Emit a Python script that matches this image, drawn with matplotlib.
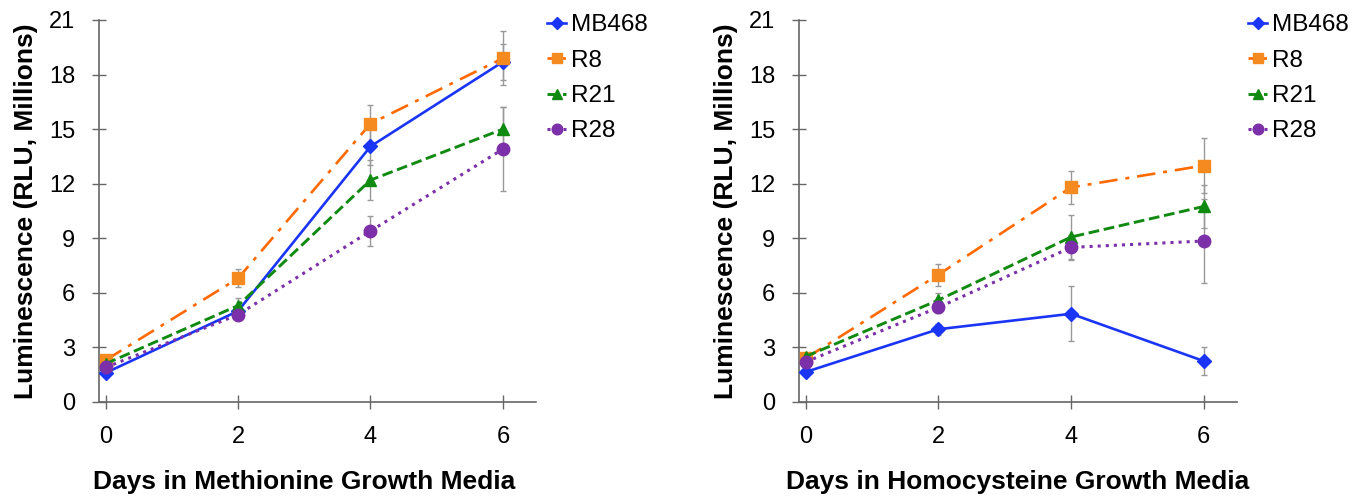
import matplotlib.pyplot as plt

days = [0, 2, 4, 6]
series = ["MB468", "R8", "R21", "R28"]

# Methionine media (RLU, millions)
met_mb468 = [1.6, 5.0, 14.05, 18.7]
met_r8 = [2.3, 6.8, 15.3, 18.9]
met_r21 = [2.1, 5.3, 12.2, 15.0]
met_r28 = [1.9, 4.8, 9.4, 13.9]
met_mb468_err = [0.2, 0.3, 1.0, 1.0]
met_r8_err = [0.2, 0.5, 1.0, 1.5]
met_r21_err = [0.2, 0.4, 1.1, 1.2]
met_r28_err = [0.2, 0.3, 0.8, 2.3]

# Homocysteine media (RLU, millions)
hcy_mb468 = [1.65, 4.0, 4.85, 2.25]
hcy_r8 = [2.4, 7.0, 11.8, 13.0]
hcy_r21 = [2.5, 5.6, 9.07, 10.75]
hcy_r28 = [2.2, 5.2, 8.5, 8.85]
hcy_mb468_err = [0.2, 0.3, 1.5, 0.75]
hcy_r8_err = [0.2, 0.6, 0.9, 1.5]
hcy_r21_err = [0.2, 0.4, 1.2, 1.2]
hcy_r28_err = [0.2, 0.3, 0.7, 2.3]

colors = ["#1a35f5", "#ff6a00", "#118a11", "#7b2fa8"]
mfcs = ["#1a35f5", "#f58a20", "#118a11", "#7b2fa8"]
markers = ["D", "s", "^", "o"]
msizes = [7.5, 8, 8.5, 9]
styles = ["-", (0, (7, 3, 1.5, 3)), "--", ":"]
widths = [1.9, 1.9, 2.1, 2.2]

plt.rcParams["font.family"] = ["Liberation Sans", "DejaVu Sans"]
grey = "#666666"

fig = plt.figure(figsize=(13.71, 4.96), dpi=100)
ax1 = fig.add_axes([99 / 1371, 94 / 496, 437 / 1371, 382 / 496])
ax2 = fig.add_axes([799 / 1371, 94 / 496, 438 / 1371, 382 / 496])

panels = [
    (ax1, [met_mb468, met_r8, met_r21, met_r28],
     [met_mb468_err, met_r8_err, met_r21_err, met_r28_err],
     "Days in Methionine Growth Media", 0.47),
    (ax2, [hcy_mb468, hcy_r8, hcy_r21, hcy_r28],
     [hcy_mb468_err, hcy_r8_err, hcy_r21_err, hcy_r28_err],
     "Days in Homocysteine Growth Media", 0.5),
]

for ax, vals, errs, xlabel, xlab_pos in panels:
    for i in range(len(series)):
        ax.errorbar(days, vals[i], yerr=errs[i], fmt="none", ecolor="#999999",
                    elinewidth=1.0, capsize=2.5, capthick=1.0, zorder=1, clip_on=False)
    for i, name in enumerate(series):
        ax.plot(days, vals[i], color=colors[i], linestyle=styles[i], linewidth=widths[i],
                marker=markers[i], markersize=msizes[i], markerfacecolor=mfcs[i],
                markeredgecolor=mfcs[i], label=name, zorder=3, clip_on=False)
    ax.set_xlim(-0.1, 6.5)
    ax.set_ylim(0, 21)
    ax.set_xticks(days)
    ax.set_yticks(range(0, 22, 3))
    for s in ["top", "right"]:
        ax.spines[s].set_visible(False)
    for s in ["left", "bottom"]:
        ax.spines[s].set_color(grey)
        ax.spines[s].set_linewidth(1.2)
    ax.tick_params(direction="inout", length=10, width=1.0, color=grey,
                   labelsize=17, pad=12)
    ax.set_xlabel(xlabel, fontsize=19, fontweight="bold", labelpad=16)
    ax.xaxis.label.set_x(xlab_pos)
    ax.set_ylabel("Luminescence (RLU, Millions)", fontsize=19, fontweight="bold", labelpad=8)
    ax.legend(loc="upper left", bbox_to_anchor=(1.025, 1.015), frameon=False, fontsize=17.5,
              handlelength=0.8, handletextpad=0.2, labelspacing=0.55, borderaxespad=0,
              borderpad=0, markerscale=0.85)

fig.savefig("out.png", dpi=100)
